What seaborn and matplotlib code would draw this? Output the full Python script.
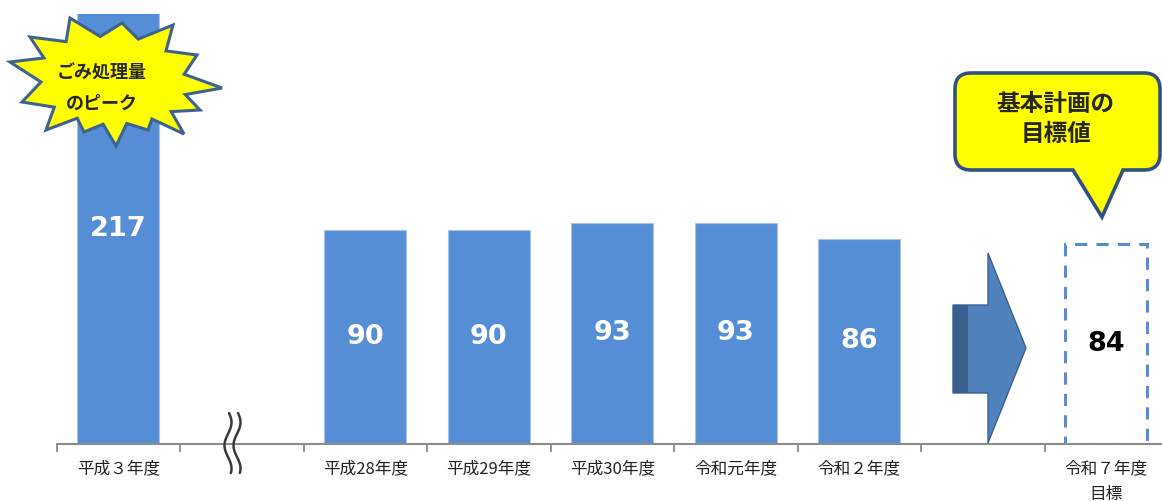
import numpy as np
import pandas as pd
import seaborn as sns
import matplotlib.pyplot as plt
from matplotlib.path import Path
from matplotlib.patches import PathPatch, Polygon

# slots along the x axis (two empty ones: axis break and the arrow)
slots = ["平成３年度", "break", "平成28年度", "平成29年度", "平成30年度",
         "令和元年度", "令和２年度", "arrow", "令和７年度\n目標"]
tick_labels = ["平成３年度", "", "平成28年度", "平成29年度", "平成30年度",
               "令和元年度", "令和２年度", "", "令和７年度\n目標"]
years = ["平成３年度", "平成28年度", "平成29年度", "平成30年度",
         "令和元年度", "令和２年度", "令和７年度\n目標"]
amounts = [217, 90, 90, 93, 93, 86, 84]
target = "令和７年度\n目標"

W, H = 1162, 501
BLUE = "#558ED5"

sns.set_style("white")
plt.rcParams['font.family'] = ['Noto Sans CJK JP', 'DejaVu Sans']

fig = plt.figure(figsize=(W / 100, H / 100), dpi=100)
ax = fig.add_axes([56.5 / W, 57.5 / H, 1111.5 / W, 429.5 / H])

df = pd.DataFrame({"year": years, "amount": amounts})
sns.barplot(data=df, x="year", y="amount", order=slots, color=BLUE,
            saturation=1, width=0.665, ax=ax, edgecolor="#A8C3E8", linewidth=0.8)

ymax = 181
ax.set_ylim(0, ymax)
ax.set_xlim(-0.5, 8.5)

# target bar: dashed outline only
for p in ax.patches:
    cx = p.get_x() + p.get_width() / 2
    if abs(cx - slots.index(target)) < 0.1:
        p.set_facecolor("none")
        p.set_edgecolor(BLUE)
        p.set_linestyle((0, (4, 3)))
        p.set_linewidth(2.2)

# value labels in the middle of the visible bar
for y, v in zip(years, amounts):
    i = slots.index(y)
    col = "black" if y == target else "white"
    ax.text(i, min(v, ymax) / 2, str(v), ha="center", va="center",
            color=col, fontsize=19.5, fontweight="bold", family="DejaVu Sans")

ax.set(xlabel="", ylabel="", yticks=[])
ax.set_xticks(range(len(slots)))
ax.set_xticklabels(tick_labels, linespacing=1.65)
ax.set_xticks(np.arange(-0.5, 9, 1), minor=True)
ax.tick_params(axis="x", which="major", bottom=False, length=0, pad=12, labelsize=12,
               labelcolor="#222222")
ax.tick_params(axis="x", which="minor", bottom=True, length=6, width=1.3,
               color="#8c8c8c", direction="out")
sns.despine(ax=ax, left=True)
ax.spines["bottom"].set_color("#8c8c8c")
ax.spines["bottom"].set_linewidth(1.5)


def fp(pts):
    return [(x / W, 1 - y / H) for x, y in pts]


# axis break squiggles
t = np.linspace(0, 1, 80)
for xc in (228, 237):
    xs = xc + 3.5 * np.sin(2.6 * np.pi * t + 0.3)
    ys = 413 + 60 * t
    ax.plot(xs / W, 1 - ys / H, color="#3a3a3a", lw=1.8,
            transform=fig.transFigure, clip_on=False, zorder=6)

# starburst "ごみ処理量のピーク"
tips = [(70, 18), (122, 23), (173, 25), (197, 55), (222, 88), (200, 110),
        (184, 134), (148, 130), (116, 146), (84, 132), (46, 130), (22, 102),
        (10, 62), (30, 37)]
cx, cy = 112, 82
star = []
for k in range(len(tips)):
    a, b = tips[k], tips[(k + 1) % len(tips)]
    star.append(a)
    mx, my = (a[0] + b[0]) / 2, (a[1] + b[1]) / 2
    star.append((cx + (mx - cx) * 0.74, cy + (my - cy) * 0.74))
ax.add_patch(Polygon(fp(star), closed=True, facecolor="#FFFF00", edgecolor="#3E6390",
                     lw=2.2, transform=fig.transFigure, clip_on=False, zorder=7))
fig.text(102 / W, 1 - 88 / H, "ごみ処理量\nのピーク", ha="center", va="center",
         fontsize=13, fontweight="bold", linespacing=1.7, zorder=8)

# block arrow
arrow = [(953, 305), (988, 305), (988, 253), (1026, 348), (988, 443), (988, 393), (953, 393)]
ax.add_patch(Polygon(fp(arrow), closed=True, facecolor="#4F81BD", edgecolor="#3A6190",
                     lw=1, transform=fig.transFigure, clip_on=False, zorder=5))
ax.add_patch(Polygon(fp([(953, 305), (968, 305), (968, 393), (953, 393)]), closed=True,
                     facecolor="#3B5F8C", edgecolor="none",
                     transform=fig.transFigure, clip_on=False, zorder=5))

# speech bubble "基本計画の目標値"
x0, x1, y0, y1, r = 955, 1160, 73, 170, 16
verts = [(x0 + r, y0), (x1 - r, y0), (x1, y0), (x1, y0 + r), (x1, y1 - r), (x1, y1),
         (x1 - r, y1), (1123, y1), (1102, 217), (1073, y1), (x0 + r, y1), (x0, y1),
         (x0, y1 - r), (x0, y0 + r), (x0, y0), (x0 + r, y0), (x0 + r, y0)]
codes = [Path.MOVETO, Path.LINETO, Path.CURVE3, Path.CURVE3, Path.LINETO, Path.CURVE3,
         Path.CURVE3, Path.LINETO, Path.LINETO, Path.LINETO, Path.LINETO, Path.CURVE3,
         Path.CURVE3, Path.LINETO, Path.CURVE3, Path.CURVE3, Path.CLOSEPOLY]
ax.add_patch(PathPatch(Path(fp(verts), codes), facecolor="#FFFF00", edgecolor="#2F5283",
                       lw=2.6, transform=fig.transFigure, clip_on=False, zorder=7))
fig.text(1056 / W, 1 - 119 / H, "基本計画の\n目標値", ha="center", va="center",
         fontsize=17, fontweight="bold", linespacing=1.3, zorder=8)

fig.savefig("out.png", dpi=100)
